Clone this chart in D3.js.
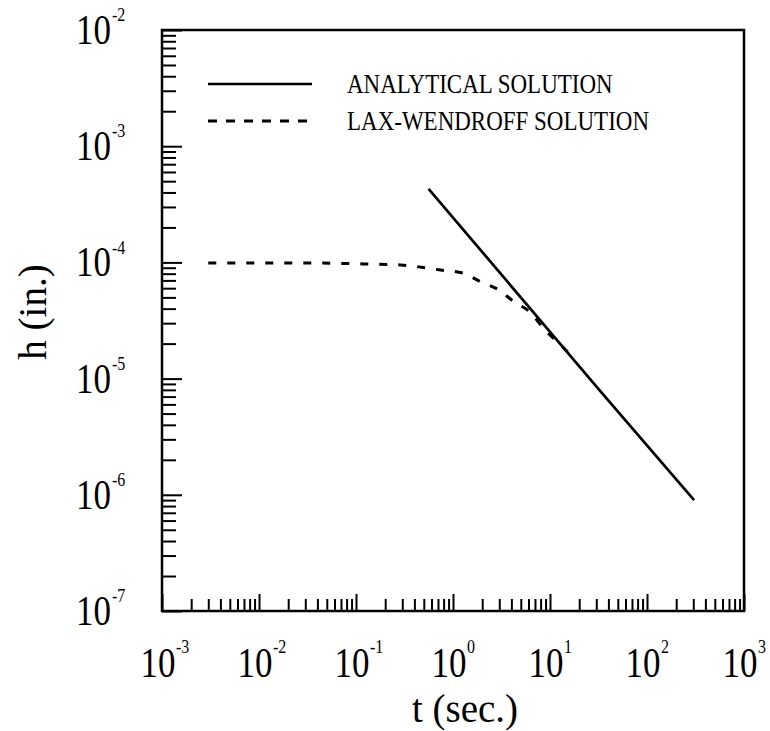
<!DOCTYPE html>
<html lang="en">
<head>
    <meta charset="UTF-8">
    <title>h vs t</title>
    <script src="https://d3js.org/d3.v7.min.js"></script>
    <style>
        body { margin: 0; background: #fff; }
        text { font-family: "Liberation Serif", "Times New Roman", serif; fill: #000; }
    </style>
</head>
<body>
<svg id="viz" width="770" height="731"></svg>

<script>
    // decade exponents used for the axis labels
    var xExps = [-3, -2, -1, 0, 1, 2, 3];
    var yExps = [-7, -6, -5, -4, -3, -2];

    // analytical solution (straight line on log-log)
    var anaT = [0.56, 33.5, 306];
    var anaH = [4.3e-4, 7.7e-6, 9.0e-7];

    // Lax-Wendroff solution
    var lwT = [0.003, 0.03, 0.119, 0.29, 0.745, 1.26, 1.93, 2.96, 4.23, 6.3, 8.6, 12.0, 16.4];
    var lwH = [9.9e-5, 9.9e-5, 9.7e-5, 9.5e-5, 8.6e-5, 8.1e-5, 6.8e-5, 5.8e-5, 4.6e-5, 3.7e-5, 2.7e-5, 2.06e-5, 1.6e-5];

    var legendLabels = ["ANALYTICAL SOLUTION", "LAX-WENDROFF SOLUTION"];

    // plot box (note: "top" is reserved on window, so use other names)
    var boxL = 162, boxR = 744, boxT = 30, boxB = 611;

    var svg = d3.select('#viz');

    var x = d3.scaleLog().domain([1e-3, 1e3]).range([boxL, boxR]);
    var y = d3.scaleLog().domain([1e-7, 1e-2]).range([boxB, boxT]);

    function minorsOf(exps) {
        var out = [];
        exps.slice(0, -1).forEach(function (e) {
            for (var m = 2; m <= 9; m++) out.push(m * Math.pow(10, e));
        });
        return out;
    }
    var xMajor = xExps.map(function (e) { return Math.pow(10, e); });
    var yMajor = yExps.map(function (e) { return Math.pow(10, e); });

    // ticks (inward)
    function styleAxis(g) {
        g.select('.domain').remove();
        g.selectAll('line').attr('stroke', '#000').attr('stroke-width', 2);
    }
    svg.append('g').attr('transform', 'translate(0,' + boxB + ')')
        .call(d3.axisBottom(x).tickValues(xMajor).tickSize(-17).tickFormat(''))
        .call(styleAxis);
    svg.append('g').attr('transform', 'translate(0,' + boxB + ')')
        .call(d3.axisBottom(x).tickValues(minorsOf(xExps)).tickSize(-12).tickFormat(''))
        .call(styleAxis);
    svg.append('g').attr('transform', 'translate(' + boxL + ',0)')
        .call(d3.axisLeft(y).tickValues(yMajor).tickSize(-20).tickFormat(''))
        .call(styleAxis);
    svg.append('g').attr('transform', 'translate(' + boxL + ',0)')
        .call(d3.axisLeft(y).tickValues(minorsOf(yExps)).tickSize(-14).tickFormat(''))
        .call(styleAxis);

    // frame
    svg.append('rect')
        .attr('x', boxL).attr('y', boxT)
        .attr('width', boxR - boxL).attr('height', boxB - boxT)
        .attr('fill', 'none').attr('stroke', '#000').attr('stroke-width', 2.5);

    // tick labels: 10 with superscript exponent
    var xl = svg.selectAll('.xlab').data(xExps).enter().append('g')
        .attr('class', 'xlab')
        .attr('transform', function (e) { return 'translate(' + (x(Math.pow(10, e)) - 4) + ',677) scale(1,1.2)'; });
    xl.append('text').attr('text-anchor', 'middle').style('font-size', '35px').text('10');
    xl.append('text').attr('x', 18).attr('y', -20).style('font-size', '16px')
        .text(function (e) { return e < 0 ? '-' + (-e) : '' + e; });

    var yl = svg.selectAll('.ylab').data(yExps).enter().append('g')
        .attr('class', 'ylab')
        .attr('transform', function (e) { return 'translate(111,' + (y(Math.pow(10, e)) + 14) + ') scale(1,1.2)'; });
    yl.append('text').attr('text-anchor', 'end').style('font-size', '35px').text('10');
    yl.append('text').attr('x', 1).attr('y', -19).style('font-size', '16px')
        .text(function (e) { return '-' + (-e); });

    // axis titles
    svg.append('text').attr('x', 465).attr('y', 722).attr('text-anchor', 'middle')
        .style('font-size', '39px').text('t (sec.)');
    svg.append('text').attr('transform', 'translate(46,312) rotate(-90)').attr('text-anchor', 'middle')
        .style('font-size', '39px').text('h (in.)');

    // curves
    var line = d3.line()
        .x(function (d) { return x(d[0]); })
        .y(function (d) { return y(d[1]); });

    svg.append('path')
        .datum(anaT.map(function (t, i) { return [t, anaH[i]]; }))
        .attr('d', line)
        .attr('fill', 'none').attr('stroke', '#000').attr('stroke-width', 2.7);

    svg.append('path')
        .datum(lwT.map(function (t, i) { return [t, lwH[i]]; }))
        .attr('d', line.curve(d3.curveMonotoneX))
        .attr('fill', 'none').attr('stroke', '#000').attr('stroke-width', 3)
        .attr('stroke-dasharray', '8,11');

    // legend
    var legend = svg.selectAll('.leg').data(legendLabels).enter().append('g')
        .attr('class', 'leg')
        .attr('transform', function (d, i) { return 'translate(0,' + (84 + i * 37) + ')'; });
    legend.append('line')
        .attr('x1', 208).attr('x2', 312).attr('y1', 0).attr('y2', 0)
        .attr('stroke', '#000').attr('stroke-width', function (d, i) { return i ? 3 : 2.7; })
        .attr('stroke-dasharray', function (d, i) { return i ? '9,9' : null; });
    legend.append('text')
        .attr('transform', 'translate(347,9) scale(1,1.18)')
        .style('font-size', '23px')
        .text(function (d) { return d; });
</script>
</body>
</html>
